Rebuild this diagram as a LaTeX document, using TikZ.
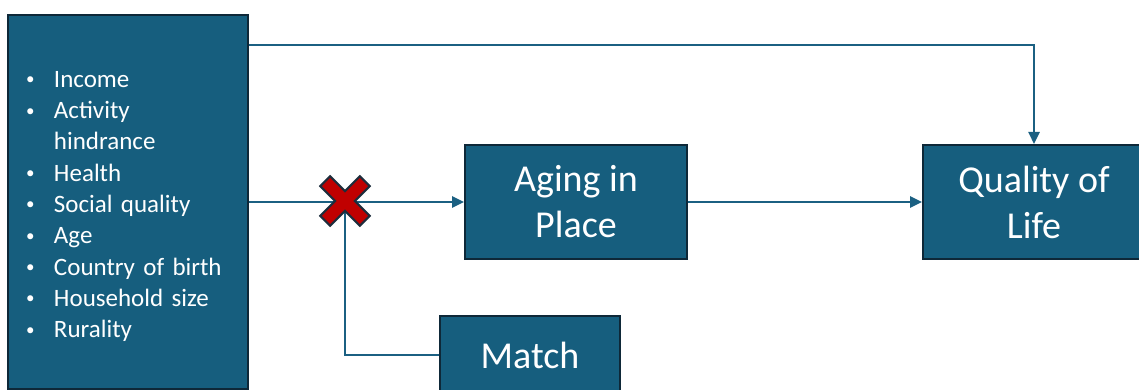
\documentclass[tikz,border=0pt]{standalone}
\usepackage{fontspec}
\setmainfont{Carlito}
\usetikzlibrary{arrows.meta}

\definecolor{boxblue}{RGB}{22,94,126}
\definecolor{boxedge}{RGB}{14,40,56}
\definecolor{linkblue}{RGB}{27,96,130}
\definecolor{crossred}{RGB}{192,0,0}
\definecolor{crossedge}{RGB}{30,45,60}

\newcommand\bitem[1]{\makebox[27pt][l]{\hspace*{-1pt}\raisebox{2.5pt}{\fontsize{17}{17}\selectfont\textbullet}}#1}

\tikzset{
  box/.style={draw=boxedge, line width=2pt, fill=boxblue, text=white,
    align=center, inner sep=0pt, font=\fontsize{38}{46}\selectfont},
  link/.style={draw=linkblue, line width=2.5pt},
  arr/.style={link, -{Triangle[length=12pt,width=11pt]}},
}

\begin{document}
\begin{tikzpicture}[x=1pt,y=-1pt]
  \useasboundingbox (0,0) rectangle (1139,390);

  %%%%% boxes %%%%%
  \node[box, anchor=north west, minimum width=240pt, minimum height=374pt,
    text width=202pt, inner xsep=19pt, align=left,
    font=\fontsize{25}{31.3}\selectfont] (factors) at (7,14) {%
    \bitem{Income\rule{0pt}{25pt}}\\
    \bitem{Activity}\\
    \hspace*{27pt}hindrance\\
    \bitem{Health}\\
    \bitem{Social quality}\\
    \bitem{Age}\\
    \bitem{Country of birth}\\
    \bitem{Household size}\\
    \bitem{Rurality}};

  \node[box, minimum width=222pt, minimum height=114pt] (aging) at (576,202) {Aging in\\Place};
  \node[box, minimum width=222pt, minimum height=114pt] (quality) at (1034,202) {Quality of\\Life};
  \node[box, minimum width=180pt, minimum height=78pt] (match) at (530,355) {Match};

  \coordinate (cross) at (345,201);

  %%%%% connectors %%%%%
  \draw[arr] (factors.east) -- (aging.west);
  \draw[link] (cross) |- (match.west);
  \draw[arr] (aging.east) -- (quality.west);
  \draw[arr] ([yshift=-31pt]factors.north east) -| (quality.north);

  %%%%% red cross %%%%%
  \draw[fill=crossred, draw=crossedge, line width=2pt, shift={(cross)}, rotate=45]
    (7,28) -- (7,7) -- (28,7) -- (28,-7) -- (7,-7) -- (7,-28)
    -- (-7,-28) -- (-7,-7) -- (-28,-7) -- (-28,7) -- (-7,7) -- (-7,28) -- cycle;
\end{tikzpicture}
\end{document}
